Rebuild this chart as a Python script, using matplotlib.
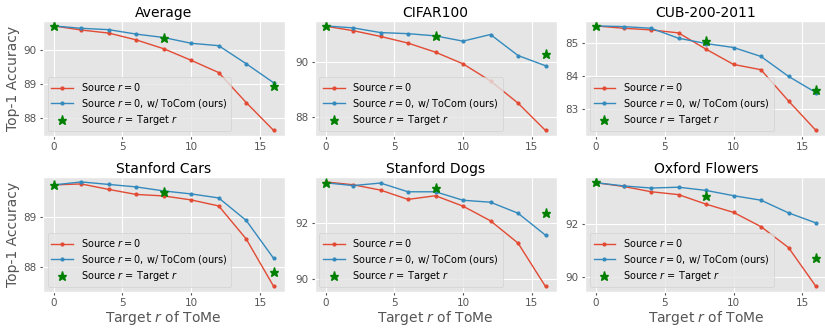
import matplotlib
matplotlib.use("Agg")
import matplotlib.pyplot as plt

plt.style.use("ggplot")

r_values = [0, 2, 4, 6, 8, 10, 12, 14, 16]
star_r = [0, 8, 16]

titles = ["Average", "CIFAR100", "CUB-200-2011",
          "Stanford Cars", "Stanford Dogs", "Oxford Flowers"]

avg_base = [90.70, 90.58, 90.49, 90.29, 90.03, 89.69, 89.33, 88.45, 87.63]
avg_tocom = [90.70, 90.63, 90.59, 90.46, 90.36, 90.19, 90.12, 89.59, 89.03]
avg_star = [90.70, 90.36, 88.95]

cifar_base = [91.29, 91.13, 90.92, 90.68, 90.35, 89.93, 89.31, 88.51, 87.52]
cifar_tocom = [91.30, 91.23, 91.06, 91.02, 90.94, 90.75, 90.99, 90.23, 89.86]
cifar_star = [91.30, 90.95, 90.29]

cub_base = [85.50, 85.43, 85.38, 85.29, 84.80, 84.34, 84.18, 83.24, 82.35]
cub_tocom = [85.50, 85.48, 85.43, 85.13, 84.97, 84.85, 84.58, 83.98, 83.49]
cub_star = [85.50, 85.05, 83.56]

cars_base = [89.64, 89.66, 89.55, 89.45, 89.42, 89.34, 89.22, 88.56, 87.61]
cars_tocom = [89.64, 89.70, 89.65, 89.60, 89.52, 89.46, 89.38, 88.93, 88.17]
cars_star = [89.64, 89.50, 87.90]

dogs_base = [93.44, 93.34, 93.15, 92.82, 92.95, 92.58, 92.06, 91.27, 89.73]
dogs_tocom = [93.41, 93.31, 93.40, 93.09, 93.09, 92.79, 92.72, 92.33, 91.55]
dogs_star = [93.41, 93.22, 92.32]

flowers_base = [93.55, 93.41, 93.21, 93.10, 92.74, 92.43, 91.89, 91.10, 89.63]
flowers_tocom = [93.55, 93.43, 93.35, 93.38, 93.26, 93.06, 92.89, 92.41, 92.03]
flowers_star = [93.58, 93.05, 90.70]

base_all = [avg_base, cifar_base, cub_base, cars_base, dogs_base, flowers_base]
tocom_all = [avg_tocom, cifar_tocom, cub_tocom, cars_tocom, dogs_tocom, flowers_tocom]
star_all = [avg_star, cifar_star, cub_star, cars_star, dogs_star, flowers_star]

yticks_all = [[88, 89, 90], [88, 90], [83, 84, 85],
              [88, 89], [90, 92], [90, 92]]
xticks = [0, 5, 10, 15]

label_base = r"Source $r=0$"
label_tocom = r"Source $r=0$, w/ ToCom (ours)"
label_star = r"Source $r$ = Target $r$"

fig = plt.figure(figsize=(8.25, 3.28), dpi=100)

W, H = 825.0, 328.0
lefts = [42.7, 314.5, 585.0]
width = 242.0
tops = [20.7, 176.7]
height = 115.0

for i in range(6):
    row, col = divmod(i, 3)
    ax = fig.add_axes([lefts[col] / W, 1 - (tops[row] + height) / H,
                       width / W, height / H])
    ax.plot(r_values, base_all[i], color="#E24A33", marker="o",
            markersize=2.0, linewidth=1.0, label=label_base)
    ax.plot(r_values, tocom_all[i], color="#348ABD", marker="o",
            markersize=2.0, linewidth=1.0, label=label_tocom)
    ax.plot(star_r, star_all[i], linestyle="none", marker="*",
            color="green", markersize=6.5, label=label_star)
    ax.set_title(titles[i], fontsize=10, pad=3)
    ax.set_xticks(xticks)
    ax.set_yticks(yticks_all[i])
    ax.tick_params(axis="both", labelsize=7.5, length=2.5, pad=2)
    ax.legend(loc="lower left", fontsize=7, handlelength=2.2,
              borderpad=0.4, labelspacing=0.35)
    if col == 0:
        ax.set_ylabel("Top-1 Accuracy", fontsize=10, labelpad=2)
    if row == 1:
        ax.set_xlabel(r"Target $r$ of ToMe", fontsize=10, labelpad=1)

fig.savefig("out.png", dpi=100)
